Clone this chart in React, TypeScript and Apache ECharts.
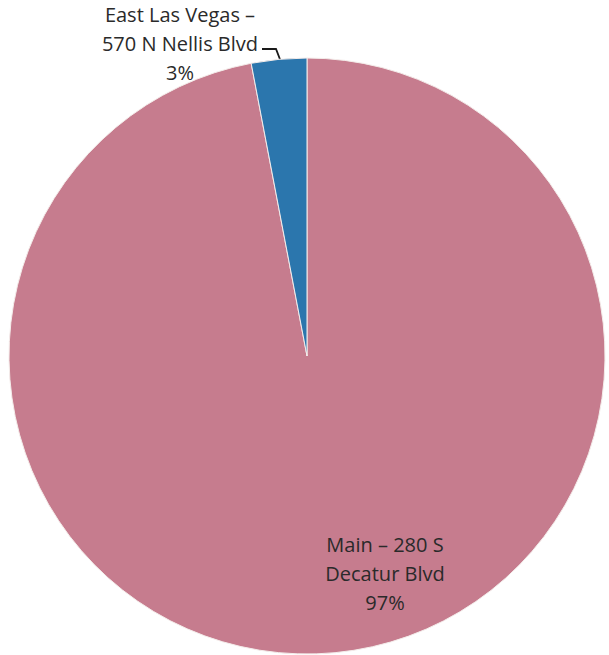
import React, { useEffect, useRef } from "react";
import * as echarts from "echarts";

const categories = ["Main – 280 S\nDecatur Blvd", "East Las Vegas –\n570 N Nellis Blvd"];
const values = [97, 3];
const colors = ["#c67c8e", "#2b76ad"];

export default function App() {
  const ref = useRef<HTMLDivElement>(null);
  useEffect(() => {
    if (!ref.current) return;
    const chart = echarts.init(ref.current, undefined, { renderer: "svg" });
    const total = values.reduce((a, b) => a + b, 0);
    chart.setOption({
      animation: false,
      backgroundColor: "#ffffff",
      series: [
        {
          type: "pie",
          center: [307, 356],
          radius: 298,
          startAngle: 90,
          clockwise: true,
          avoidLabelOverlap: false,
          itemStyle: { borderColor: "#f4ecea", borderWidth: 1 },
          label: {
            show: true,
            fontFamily: "Open Sans",
            fontSize: 20,
            lineHeight: 29,
            color: "#2a2a2a",
            align: "center",
            formatter: (p: any) => `${p.name}\n${Math.round((p.value / total) * 100)}%`,
          },
          labelLine: { show: true, lineStyle: { color: "#1a1a1a", width: 1.8 }, smooth: false },
          labelLayout: (params: any) => {
            if (params.dataIndex === 0) {
              return { x: 385, y: 573, align: "center", verticalAlign: "middle" };
            }
            return {
              x: 180,
              y: 43,
              align: "center",
              verticalAlign: "middle",
              labelLinePoints: [
                [281, 62],
                [276, 49],
                [262, 49],
              ],
            };
          },
          data: categories.map((name, i) => ({
            name,
            value: values[i],
            itemStyle: { color: colors[i] },
            labelLine: { show: i === 1 },
          })),
        },
      ],
    });
    return () => chart.dispose();
  }, []);
  return (
    <div
      ref={ref}
      style={{ position: "fixed", left: 0, top: 0, width: 609, height: 655 }}
    />
  );
}
